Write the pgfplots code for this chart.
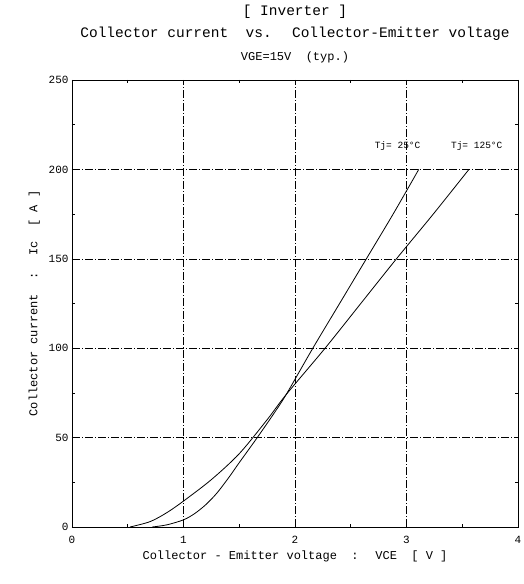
\documentclass[border=0pt]{standalone}
\usepackage{pgfplots}
\pgfplotsset{compat=1.18}
\usepackage{fontspec}
\setmainfont{Liberation Mono}
\begin{document}
\begin{tikzpicture}
\path[use as bounding box] (-72pt,-57pt) rectangle (452pt,527pt);
\begin{axis}[
  scale only axis, width=446pt, height=447pt,
  xmin=0, xmax=4, ymin=0, ymax=250,
  xtick={0,1,2,3,4}, ytick={0,50,100,150,200,250},
  minor xtick={0.5,1.5,2.5,3.5}, minor ytick={25,75,125,175,225},
  tick align=inside, major tick length=4pt, minor tick length=3pt,
  grid=major,
  major grid style={black, line width=0.4pt, dash pattern=on 8pt off 2pt on 1pt off 2pt},
  axis line style={black, line width=0.7pt},
  tick style={black, line width=0.5pt},
  ticklabel style={font=\fontsize{11}{13}\selectfont},
  xticklabel style={yshift=-6pt},
  /pgf/number format/assume math mode=true,
  xlabel={Collector - Emitter voltage \ : \ VCE \ [ V ]},
  ylabel={Collector current \ : \ Ic \ [ A ]},
  xlabel style={font=\fontsize{12}{14}\selectfont, yshift=0pt},
  ylabel style={font=\fontsize{12}{14}\selectfont, yshift=2pt},
  clip=false,
]
\addplot[black, line width=0.8pt, smooth] coordinates {
  (0.72,0) (0.85,1.2) (1.0,4) (1.1,7.5) (1.2,12.5) (1.3,19) (1.41,28)
  (1.5,36) (1.65,49) (1.8,62.5) (1.92,74) (2.16,100) (2.4,125)
  (2.64,150) (2.88,175) (3.11,200)
};
\addplot[black, line width=0.8pt, smooth] coordinates {
  (0.52,0) (0.7,3) (0.85,8) (1.0,14.5) (1.25,26.5) (1.5,41)
  (1.75,60) (1.92,74) (2.27,100) (2.59,125) (2.91,150) (3.24,175)
  (3.56,200)
};
\node[font=\fontsize{9.5}{11}\selectfont] at (axis cs:2.92,213) {Tj= 25°C};
\node[font=\fontsize{9.5}{11}\selectfont] at (axis cs:3.63,213) {Tj= 125°C};
\node[font=\fontsize{14.5}{16}\selectfont] at (axis description cs:0.5,1) [yshift=68pt] {[ Inverter ]};
\node[font=\fontsize{14.5}{16}\selectfont] at (axis description cs:0.5,1) [yshift=46pt] {Collector current \ vs. \ Collector-Emitter voltage};
\node[font=\fontsize{12}{14}\selectfont] at (axis description cs:0.5,1) [yshift=23pt] {VGE=15V \ (typ.)};
\end{axis}
\end{tikzpicture}
\end{document}
